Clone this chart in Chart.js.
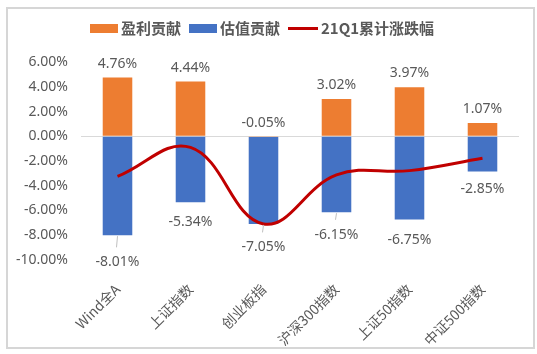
<!DOCTYPE html>
<html><head><meta charset="utf-8">
<script src="https://cdn.jsdelivr.net/npm/chart.js@4.4.1/dist/chart.umd.min.js"></script>
<style>
html,body{margin:0;padding:0;background:#fff;}
#wrap{position:relative;width:537px;height:354px;overflow:hidden;}
#frame{position:absolute;left:6px;top:7px;width:525px;height:338px;border:2px solid #d6d6d6;pointer-events:none;}
canvas{position:absolute;left:0;top:0;}
</style></head><body>
<div id="wrap"><canvas id="c" width="537" height="354"></canvas><div id="frame"></div></div>
<script>
const categories = ['Wind全A','上证指数','创业板指','沪深300指数','上证50指数','中证500指数'];
const earnings = [4.76, 4.44, -0.05, 3.02, 3.97, 1.07];
const valuation = [-8.01, -5.34, -7.05, -6.15, -6.75, -2.85];
const cumulative = [-3.25, -0.90, -7.10, -3.13, -2.78, -1.78];
const seriesNames = ['盈利贡献','估值贡献','21Q1累计涨跌幅'];
const yTicks = [6, 4, 2, 0, -2, -4, -6, -8, -10];

const COL_ORANGE = '#ED7D31', COL_BLUE = '#4472C4', COL_RED = '#C00000', TXT = '#595959';
const NUM_FONT = '"Noto Sans", "Noto Sans CJK SC", sans-serif';
const CJK_FONT = '"Noto Sans CJK SC", "Noto Sans", sans-serif';
const fmt = v => v.toFixed(2) + '%';

const labelPlugin = {
  id: 'valueLabels',
  afterDatasetsDraw(chart, args, opts) {
    const ctx = chart.ctx;
    ctx.save();
    ctx.font = '14px ' + NUM_FONT;
    ctx.fillStyle = TXT;
    ctx.textAlign = 'center';
    ctx.textBaseline = 'middle';
    chart.getDatasetMeta(0).data.forEach((bar, i) => {
      const top = Math.min(bar.y, bar.base);
      ctx.fillText(fmt(earnings[i]), bar.x, top - opts.topGap);
    });
    chart.getDatasetMeta(1).data.forEach((bar, i) => {
      const bottom = Math.max(bar.y, bar.base);
      const y = bottom + opts.bottomGaps[i];
      if (opts.leaders[i]) {
        ctx.strokeStyle = '#bfbfbf';
        ctx.lineWidth = 1;
        ctx.beginPath();
        ctx.moveTo(bar.x, bottom + 1);
        ctx.lineTo(bar.x - 1, y - 15);
        ctx.stroke();
      }
      ctx.fillText(fmt(valuation[i]), bar.x, y);
    });
    ctx.restore();
  }
};

const legendPlugin = {
  id: 'customLegend',
  afterDraw(chart, args, opts) {
    const ctx = chart.ctx;
    ctx.save();
    ctx.font = 'bold 15px ' + CJK_FONT;
    ctx.textBaseline = 'middle';
    ctx.textAlign = 'left';
    let x = opts.x;
    const y = opts.y;
    const kinds = ['box', 'box', 'line'];
    const cols = [COL_ORANGE, COL_BLUE, COL_RED];
    seriesNames.forEach((name, i) => {
      if (kinds[i] === 'box') {
        ctx.fillStyle = cols[i];
        ctx.fillRect(x, y - 4.5, 28, 9);
        x += 28 + 3;
      } else {
        ctx.strokeStyle = cols[i];
        ctx.lineWidth = 3;
        ctx.beginPath();
        ctx.moveTo(x, y);
        ctx.lineTo(x + 30, y);
        ctx.stroke();
        x += 30 + 3;
      }
      ctx.fillStyle = TXT;
      ctx.fillText(name, x, y);
      x += ctx.measureText(name).width + 8;
    });
    ctx.restore();
  }
};

new Chart(document.getElementById('c'), {
  data: {
    labels: categories,
    datasets: [
      { type: 'bar', label: seriesNames[0], data: earnings, backgroundColor: COL_ORANGE, stack: 'bars', order: 1,
        barPercentage: 0.405, categoryPercentage: 1 },
      { type: 'bar', label: seriesNames[1], data: valuation, backgroundColor: COL_BLUE, stack: 'bars', order: 2,
        barPercentage: 0.405, categoryPercentage: 1 },
      { type: 'line', label: seriesNames[2], data: cumulative, borderColor: COL_RED, borderWidth: 3,
        pointRadius: 0, tension: 0.4, fill: false, stack: 'line', order: 0 }
    ]
  },
  options: {
    responsive: false,
    devicePixelRatio: 1,
    animation: false,
    layout: { padding: { top: 62.3, right: 18, bottom: 0, left: 0 } },
    plugins: {
      legend: { display: false },
      tooltip: { enabled: false },
      valueLabels: { topGap: 14, bottomGaps: [27.2, 20.2, 23.5, 22.6, 20.5, 17.9], leaders: [true, false, true, true, false, false] },
      customLegend: { x: 90, y: 28.5 }
    },
    scales: {
      x: {
        stacked: true,
        grid: { display: false, drawTicks: false },
        border: { display: false },
        ticks: { autoSkip: false, maxRotation: 45, minRotation: 45, padding: 21, color: TXT,
                 font: { family: CJK_FONT, size: 14 } },
        afterFit(s) { s.height = 94.3; }
      },
      y: {
        stacked: true,
        min: -10, max: 6,
        afterBuildTicks(s) { s.ticks = yTicks.map(v => ({ value: v })); },
        grid: { drawTicks: false, lineWidth: 1, color: c => (c.tick && c.tick.value === 0) ? '#d9d9d9' : 'rgba(0,0,0,0)' },
        border: { display: false },
        ticks: { padding: 13, color: TXT, font: { family: NUM_FONT, size: 14 }, callback: v => fmt(v) },
        afterFit(s) { s.width = 81; }
      }
    }
  },
  plugins: [labelPlugin, legendPlugin]
});
</script>
</body></html>
